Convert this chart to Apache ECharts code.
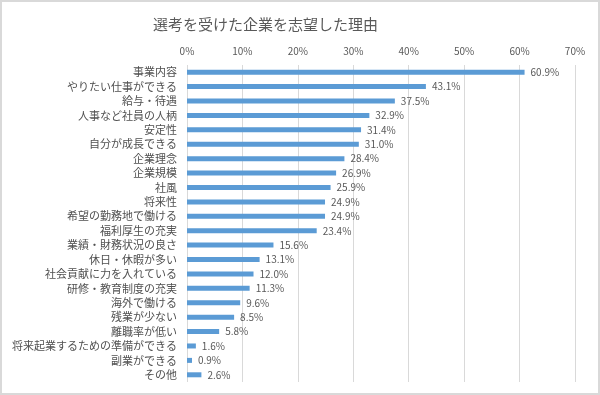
<!DOCTYPE html>
<html>
<head>
<meta charset="utf-8">
<script src="https://cdn.jsdelivr.net/npm/echarts@6/dist/echarts.min.js"></script>
<style>
html,body{margin:0;padding:0;background:#fff;}
#wrap{position:absolute;left:0;top:0;width:596px;height:391px;border:2px solid #d9d9d9;}
#c{position:absolute;left:-2px;top:-2px;width:600px;height:395px;}
</style>
</head>
<body>
<div id="wrap"><div id="c"></div></div>
<script>
const titleText = '選考を受けた企業を志望した理由';
const categories = ['事業内容','やりたい仕事ができる','給与・待遇','人事など社員の人柄','安定性','自分が成長できる','企業理念','企業規模','社風','将来性','希望の勤務地で働ける','福利厚生の充実','業績・財務状況の良さ','休日・休暇が多い','社会貢献に力を入れている','研修・教育制度の充実','海外で働ける','残業が少ない','離職率が低い','将来起業するための準備ができる','副業ができる','その他'];
const values = [60.9,43.1,37.5,32.9,31.4,31.0,28.4,26.9,25.9,24.9,24.9,23.4,15.6,13.1,12.0,11.3,9.6,8.5,5.8,1.6,0.9,2.6];
const xMin = 0, xMax = 70, xStep = 10;

const font = '"Noto Sans CJK JP", "Noto Sans", sans-serif';
const chart = echarts.init(document.getElementById('c'));
chart.setOption({
  animation: false,
  title: {
    text: titleText, left: 148, top: 12,
    textStyle: {fontFamily: font, fontSize: 15, fontWeight: 'normal', color: '#595959'}
  },
  grid: {left: 187, right: 25, top: 65, bottom: 13},
  xAxis: {
    type: 'value', position: 'top', min: xMin, max: xMax, interval: xStep,
    axisLabel: {formatter: '{value}%', fontFamily: font, fontSize: 10, color: '#595959', margin: 9},
    axisLine: {show: false}, axisTick: {show: false},
    splitLine: {lineStyle: {color: '#d9d9d9', width: 1}}
  },
  yAxis: {
    type: 'category', data: categories, inverse: true,
    axisLabel: {fontFamily: font, fontSize: 11, color: '#505050', margin: 10, interval: 0},
    axisLine: {show: false}, axisTick: {show: false}
  },
  series: [{
    type: 'bar', data: values, barWidth: 5,
    itemStyle: {color: '#5B9BD5'},
    label: {show: true, position: 'right', distance: 6, formatter: p => p.value.toFixed(1) + '%',
      fontFamily: font, fontSize: 10, color: '#595959'}
  }]
});
</script>
</body>
</html>
